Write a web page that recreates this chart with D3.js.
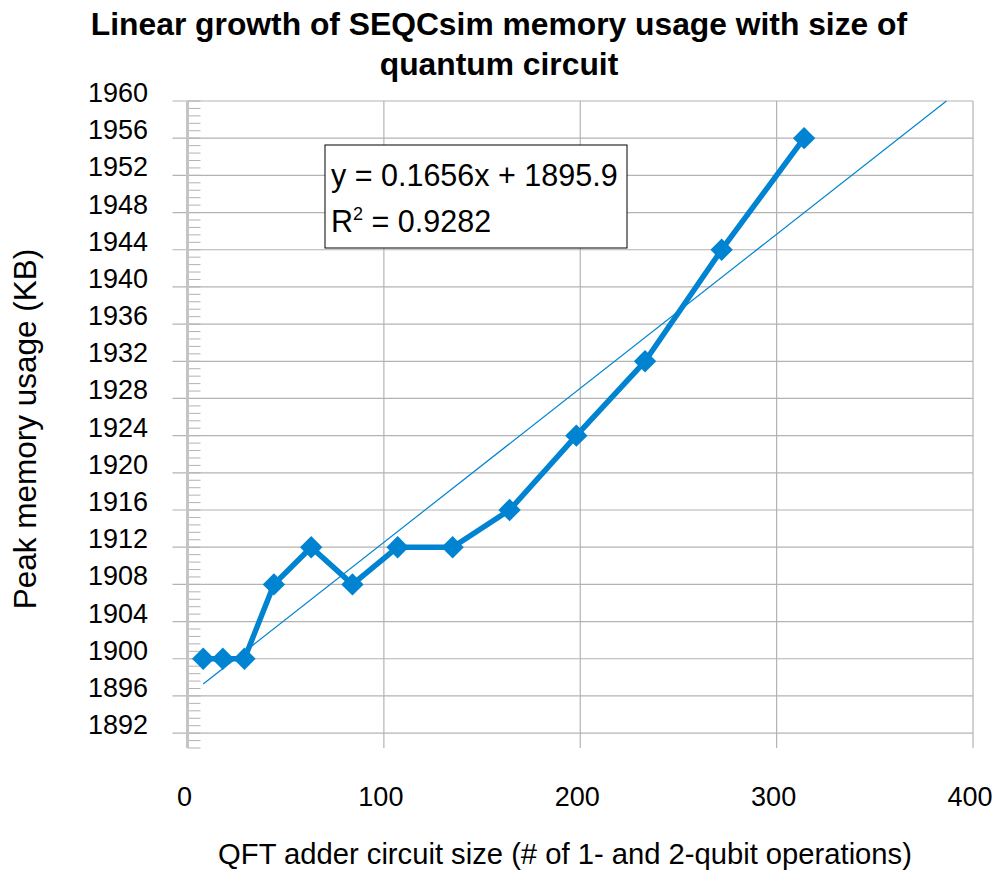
<!DOCTYPE html>
<html>
<head>
<meta charset="utf-8">
<script src="https://cdn.jsdelivr.net/npm/d3@7"></script>
<style>
  body { margin: 0; background: #fff; }
  text { font-family: "Liberation Sans", Arial, sans-serif; fill: #000; }
</style>
</head>
<body>
<div id="container"></div>
<script>
// circuit size (# of operations) and peak memory (KB)
const circuitSizes = [8, 18, 29, 44, 63, 84, 107, 135, 164, 198, 233, 272, 314];
const peakMemory = [1900, 1900, 1900, 1908, 1912, 1908, 1912, 1912, 1916, 1924, 1932, 1944, 1956];
const yTicks = [1892, 1896, 1900, 1904, 1908, 1912, 1916, 1920, 1924, 1928, 1932, 1936, 1940, 1944, 1948, 1952, 1956, 1960];
const xTicks = [0, 100, 200, 300, 400];
const titleLines = ["Linear growth of SEQCsim memory usage with size of", "quantum circuit"];
const equationLines = ["y = 0.1656x + 1895.9", "R", "2", " = 0.9282"];

const width = 999, height = 871;
const plotLeft = 187.5, plotRight = 973, plotTop = 101, plotBottom = 748;
const blue = "#0084d1", grid = "#b3b3b3";

const svg = d3.select("#container").append("svg")
    .attr("width", width)
    .attr("height", height);

const x = d3.scaleLinear().domain([0, 400]).range([plotLeft, plotRight]);
const y = d3.scaleLinear().domain([1890.4, 1960]).range([plotBottom, plotTop]);

// horizontal gridlines, poking out left as major ticks
svg.append("g")
    .selectAll("line")
    .data(yTicks)
    .join("line")
    .attr("x1", plotLeft - 15)
    .attr("x2", plotRight)
    .attr("y1", d => y(d))
    .attr("y2", d => y(d))
    .attr("stroke", grid)
    .attr("stroke-width", 1.2);

// vertical gridlines
svg.append("g")
    .selectAll("line")
    .data(xTicks.slice(1))
    .join("line")
    .attr("x1", d => x(d))
    .attr("x2", d => x(d))
    .attr("y1", plotTop)
    .attr("y2", plotBottom)
    .attr("stroke", grid)
    .attr("stroke-width", 1.2);

// y axis line with minor ticks inside
const minor = d3.range(0, 88).map(i => 1890.4 + i * 0.8).filter(v => v <= 1960.01);
svg.append("g")
    .selectAll("line")
    .data(minor)
    .join("line")
    .attr("x1", plotLeft)
    .attr("x2", plotLeft + 13)
    .attr("y1", d => y(d))
    .attr("y2", d => y(d))
    .attr("stroke", grid)
    .attr("stroke-width", 1);

svg.append("line")
    .attr("x1", plotLeft).attr("x2", plotLeft)
    .attr("y1", plotTop).attr("y2", plotBottom)
    .attr("stroke", "#c4c4c4")
    .attr("stroke-width", 3);

// tick labels
svg.append("g")
    .selectAll("text")
    .data(yTicks)
    .join("text")
    .attr("x", 148)
    .attr("y", d => y(d) + 1)
    .attr("text-anchor", "end")
    .attr("font-size", 27)
    .text(d => d);

svg.append("g")
    .selectAll("text")
    .data(xTicks)
    .join("text")
    .attr("x", d => x(d) - 3)
    .attr("y", 806)
    .attr("text-anchor", "middle")
    .attr("font-size", 27)
    .text(d => d);

// least squares trendline
const mx = d3.mean(circuitSizes), my = d3.mean(peakMemory);
const slope = d3.sum(circuitSizes, (v, i) => (v - mx) * (peakMemory[i] - my)) /
    d3.sum(circuitSizes, v => (v - mx) * (v - mx));
const intercept = my - slope * mx;
const xEnd = Math.min(400, (1960 - intercept) / slope);

svg.append("line")
    .attr("x1", x(d3.min(circuitSizes)))
    .attr("y1", y(intercept + slope * d3.min(circuitSizes)))
    .attr("x2", x(xEnd))
    .attr("y2", y(intercept + slope * xEnd))
    .attr("stroke", blue)
    .attr("stroke-width", 1.2);

// data line and diamond markers
const pts = circuitSizes.map((v, i) => [v, peakMemory[i]]);
svg.append("path")
    .datum(pts)
    .attr("fill", "none")
    .attr("stroke", blue)
    .attr("stroke-width", 5.5)
    .attr("stroke-linejoin", "round")
    .attr("d", d3.line().x(d => x(d[0])).y(d => y(d[1])));

svg.append("g")
    .selectAll("path")
    .data(pts)
    .join("path")
    .attr("transform", d => `translate(${x(d[0])},${y(d[1])}) rotate(45)`)
    .attr("d", d3.symbol(d3.symbolSquare, 250))
    .attr("fill", blue);

// equation box
svg.append("rect")
    .attr("x", 325).attr("y", 145)
    .attr("width", 302).attr("height", 103)
    .attr("fill", "#fff")
    .attr("stroke", "#000")
    .attr("stroke-width", 1);

svg.append("text")
    .attr("x", 331).attr("y", 186)
    .attr("font-size", 30.5)
    .text(equationLines[0]);

const r2 = svg.append("text")
    .attr("x", 331).attr("y", 232)
    .attr("font-size", 30.5);
r2.append("tspan").text(equationLines[1]);
r2.append("tspan").attr("dy", -12).attr("font-size", 18).text(equationLines[2]);
r2.append("tspan").attr("dy", 12).text(equationLines[3]);

// titles
svg.append("g")
    .selectAll("text")
    .data(titleLines)
    .join("text")
    .attr("x", 499)
    .attr("y", (d, i) => 35 + i * 40)
    .attr("text-anchor", "middle")
    .attr("font-size", 31.8)
    .attr("font-weight", "bold")
    .text(d => d);

svg.append("text")
    .attr("transform", "translate(36,429) rotate(-90)")
    .attr("text-anchor", "middle")
    .attr("font-size", 31.5)
    .text("Peak memory usage (KB)");

svg.append("text")
    .attr("x", 565)
    .attr("y", 864)
    .attr("text-anchor", "middle")
    .attr("font-size", 29.2)
    .text("QFT adder circuit size (# of 1- and 2-qubit operations)");
</script>
</body>
</html>
